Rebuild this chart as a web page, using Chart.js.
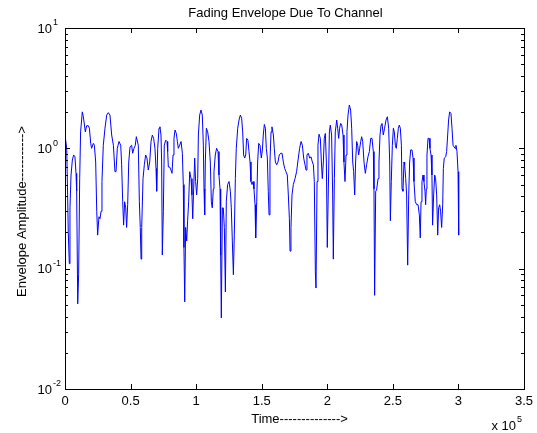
<!DOCTYPE html>
<html lang="en">
<head>
    <meta charset="UTF-8">
    <title>Fading Envelope Due To Channel</title>
    <script src="https://cdn.jsdelivr.net/npm/chart.js"></script>
    <style>
        body { margin: 0; background: #fff; }
        canvas { display: block; }
    </style>
</head>
<body>
    <canvas id="envChart" width="537" height="433"></canvas>

    <script>
        // sample times (in seconds) and envelope amplitudes
        var timeVals = [
            0, 1300, 2000, 2500, 3300, 3800, 4600, 5600, 6600, 7600, 8400, 8900, 9700, 10400, 11200, 11900,
            13200, 14000, 15500, 16500, 17800, 18600, 19600, 20300, 21600, 22400, 23400, 24200, 24900, 25900,
            26700, 27500, 28200, 29200, 30500, 31800, 33000, 34300, 35600, 36900, 38100, 38900, 39900, 41200,
            42500, 43200, 44000, 44700, 45500, 46300, 47000, 47800, 48600, 49600, 50800, 51600, 52600, 53600,
            54400, 55900, 56700, 57400, 58000, 58500, 59500, 60500, 61500, 62500, 63500, 64600, 65600, 66600,
            67600, 68600, 69400, 69900, 70700, 71700, 72400, 73200, 73700, 74200, 75000, 75700, 76800, 77800,
            78300, 78800, 79800, 80800, 81600, 82400, 83100, 83900, 84900, 85700, 86400, 87400, 88500, 89500,
            90200, 90700, 91300, 92000, 92800, 93500, 94300, 95100, 96100, 96800, 97400, 98100, 98900, 99600,
            100400, 101200, 101700, 102700, 103700, 104700, 105500, 106000, 106500, 107000, 107800, 108800,
            109800, 110800, 111600, 112300, 113100, 113600, 114600, 115600, 116700, 117400, 118200, 118700,
            119200, 120000, 120700, 121500, 122300, 123000, 124000, 125100, 126100, 126800, 127600, 128400,
            129100, 129900, 130600, 131700, 132700, 133700, 134700, 135500, 136200, 137000, 137800, 138500,
            139500, 140300, 141100, 141800, 142600, 143400, 144100, 144900, 145400, 146200, 146900, 147700,
            148700, 149700, 150500, 151200, 152000, 152800, 153500, 154300, 155000, 155600, 156300, 157100,
            157800, 158900, 159600, 160400, 161400, 162400, 163400, 164500, 165500, 166500, 167500, 168500,
            169500, 170300, 171100, 171600, 172300, 173100, 174100, 175400, 176600, 177900, 178900, 180000,
            181000, 182000, 183000, 183800, 184500, 185500, 186600, 187600, 188600, 189400, 190100, 190900,
            191400, 192200, 192900, 193700, 194700, 195500, 196200, 197000, 197700, 198500, 199300, 200000,
            200800, 201600, 202300, 203300, 204100, 204600, 205400, 206100, 207200, 207900, 208700, 209400,
            210200, 211000, 212000, 212700, 213500, 214300, 215000, 215800, 216800, 217800, 218600, 219400,
            220100, 220900, 221600, 222400, 223200, 223900, 224700, 225500, 226200, 227000, 228000, 229000,
            230000, 231000, 232100, 233100, 234100, 235100, 235600, 236100, 236900, 237600, 238700, 239400,
            240200, 241000, 241700, 242700, 243700, 244800, 245800, 246800, 247600, 248100, 248800, 249600,
            250400, 251100, 251900, 252600, 253400, 254200, 254900, 255700, 256500, 257000, 257700, 258500,
            259000, 259800, 260500, 261300, 262100, 262800, 263600, 264600, 265400, 266100, 267100, 268200,
            269200, 270200, 270900, 271500, 272200, 273000, 273700, 274500, 275000, 275500, 276000, 276800,
            277600, 278300, 279100, 279800, 280300, 281100, 281900, 282600, 283400, 284200, 284900, 285700,
            286400, 287200, 288000, 288500, 289200, 290300, 291000, 291800, 292500, 293300, 294300, 295100,
            295900, 296600, 297400, 298100, 298900, 299700, 300200
        ];
        var envVals = [
            1.29, 1.00, 0.41, 0.20, 0.11, 0.32, 0.60, 0.80, 0.88, 0.85, 0.62, 0.44, 0.051, 0.089, 0.56, 1.37,
            2.01, 1.83, 1.37, 1.54, 1.54, 1.47, 1.10, 1.00, 1.10, 1.06, 0.77, 0.30, 0.19, 0.27,
            0.26, 0.30, 0.53, 1.06, 1.47, 1.89, 1.98, 1.89, 1.29, 1.06, 0.64, 0.64, 1.00, 1.14,
            1.06, 0.73, 0.36, 0.23, 0.36, 0.32, 0.22, 0.34, 0.77, 1.03, 1.06, 0.91, 1.00, 1.06,
            1.25, 1.06, 0.36, 0.22, 0.12, 0.22, 0.56, 0.73, 0.88, 0.83, 0.66, 0.77, 1.14, 1.29,
            1.21, 1.00, 0.68, 0.44, 1.00, 1.47, 1.51, 1.29, 0.77, 0.13, 0.30, 1.06, 1.17, 1.14,
            0.94, 0.70, 0.70, 0.66, 0.62, 0.88, 1.21, 1.42, 1.33, 1.14, 1.00, 1.06, 1.14, 0.91,
            0.50, 0.15, 0.053, 0.22, 0.17, 0.25, 0.36, 0.64, 0.56, 0.41, 0.26, 0.46, 0.83, 0.53,
            0.41, 0.56, 1.29, 1.89, 2.08, 1.89, 1.06, 0.46, 0.28, 0.77, 1.47, 1.37,
            1.14, 0.77, 0.36, 0.32, 0.46, 0.64, 0.88, 1.00, 0.94, 0.60, 0.46, 0.13,
            0.039, 0.32, 0.32, 0.22, 0.064, 0.36, 0.50, 0.53, 0.44, 0.32, 0.17, 0.089,
            0.19, 0.56, 1.00, 1.47, 1.72, 1.89, 1.78, 1.37, 0.88, 0.83, 0.88, 1.21,
            1.17, 0.94, 0.77, 0.53, 0.50, 0.53, 0.46, 0.34, 0.18, 0.36, 0.77, 1.10,
            1.06, 0.83, 0.97, 1.29, 1.58, 1.47, 1.00, 0.83, 0.44, 0.28, 0.77, 1.37,
            1.51, 1.29, 1.00, 0.77, 0.73, 0.77, 0.88, 0.91, 0.91, 0.77, 0.68, 0.64,
            0.60, 0.41, 0.26, 0.14, 0.22, 0.41, 0.50, 0.56, 0.64, 0.83, 1.00, 1.14,
            1.06, 0.83, 0.73, 0.66, 0.88, 0.91, 0.83, 0.85, 0.77, 0.73, 0.53, 0.094,
            0.069, 0.53, 1.06, 1.31, 1.21, 0.77, 0.56, 0.77, 1.21, 1.33, 0.77, 0.15,
            0.46, 1.37, 1.56, 1.29, 0.41, 0.12, 0.56, 1.37, 1.72, 1.47, 1.21, 1.47,
            1.61, 1.56, 1.29, 0.77, 0.53, 0.88, 1.37, 1.89, 2.29, 2.08, 1.47, 0.77,
            0.64, 0.41, 0.77, 1.14, 1.06, 0.88, 1.00, 1.14, 1.25, 1.14, 0.77, 0.62,
            0.73, 0.85, 0.94, 1.21, 1.21, 0.94, 0.46, 0.060, 0.44, 0.45, 0.56, 0.77,
            1.29, 1.56, 1.61, 1.29, 1.47, 1.72, 1.83, 1.47, 0.77, 0.25, 0.53, 1.06,
            1.47, 1.37, 1.06, 1.00, 1.21, 1.47, 1.56, 1.47, 1.06, 0.46, 0.44, 0.77,
            0.73, 0.56, 0.41, 0.107, 0.41, 0.77, 0.97, 0.97, 0.83, 0.53, 0.36, 0.34,
            0.34, 0.28, 0.18, 0.36, 0.53, 0.60, 0.53, 0.44, 0.34, 0.46, 0.88, 1.21,
            1.21, 1.00, 0.88, 0.60, 0.23, 0.41, 0.60, 0.56, 0.41, 0.19, 0.32, 0.34,
            0.30, 0.22, 0.34, 0.68, 0.83, 0.85, 0.94, 1.29, 1.72, 2.01, 1.95, 1.47,
            1.06, 1.06, 1.00, 1.06, 0.94, 0.64, 0.19
        ];

        var xTickVals = [0, 50000, 100000, 150000, 200000, 250000, 300000, 350000];
        var xTickLabels = ['0', '0.5', '1', '1.5', '2', '2.5', '3', '3.5'];
        var yDecades = [0.01, 0.1, 1, 10];
        var yExponents = ['-2', '-1', '0', '1'];

        var titleText = 'Fading Envelope Due To Channel';
        var xLabelText = 'Time-------------->';
        var yLabelText = 'Envelope Amplitude----------->';

        var points = timeVals.map(function (t, i) {
            return { x: t, y: envVals[i] };
        });

        var fontName = '"Liberation Sans", Arial, sans-serif';

        // MATLAB style frame: box, inward ticks, 10^n labels
        var matlabAxes = {
            id: 'matlabAxes',
            afterDraw: function (chart) {
                var ctx = chart.ctx;
                var a = chart.chartArea;
                var xs = chart.scales.x;
                var ys = chart.scales.y;
                var midX = (a.left + a.right) / 2;

                ctx.save();
                ctx.strokeStyle = '#000';
                ctx.lineWidth = 1;
                ctx.strokeRect(a.left + 0.5, a.top + 0.5, a.right - a.left, a.bottom - a.top);

                ctx.beginPath();
                xTickVals.forEach(function (v) {
                    var px = Math.round(xs.getPixelForValue(v)) + 0.5;
                    ctx.moveTo(px, a.bottom);
                    ctx.lineTo(px, a.bottom - 5);
                    ctx.moveTo(px, a.top);
                    ctx.lineTo(px, a.top + 5);
                });
                yDecades.forEach(function (d, k) {
                    var py = Math.round(ys.getPixelForValue(d)) + 0.5;
                    ctx.moveTo(a.left, py);
                    ctx.lineTo(a.left + 5, py);
                    ctx.moveTo(a.right, py);
                    ctx.lineTo(a.right - 5, py);
                    if (k < yDecades.length - 1) {
                        for (var m = 2; m <= 9; m++) {
                            var my = Math.round(ys.getPixelForValue(d * m)) + 0.5;
                            ctx.moveTo(a.left, my);
                            ctx.lineTo(a.left + 3, my);
                            ctx.moveTo(a.right, my);
                            ctx.lineTo(a.right - 3, my);
                        }
                    }
                });
                ctx.stroke();

                ctx.fillStyle = '#000';
                ctx.font = '13px ' + fontName;
                ctx.textAlign = 'center';
                ctx.textBaseline = 'middle';
                xTickVals.forEach(function (v, i) {
                    ctx.fillText(xTickLabels[i], xs.getPixelForValue(v), a.bottom + 12);
                });

                yDecades.forEach(function (d, k) {
                    var py = ys.getPixelForValue(d);
                    ctx.font = '13px ' + fontName;
                    ctx.textAlign = 'right';
                    ctx.fillText('10', a.left - 13, py + 1);
                    ctx.font = '9px ' + fontName;
                    ctx.textAlign = 'left';
                    ctx.fillText(yExponents[k], a.left - 12, py - 5);
                });

                // exponent note under the x axis
                ctx.font = '13px ' + fontName;
                ctx.textAlign = 'right';
                ctx.fillText('x 10', a.right - 8, a.bottom + 37);
                ctx.font = '9px ' + fontName;
                ctx.textAlign = 'left';
                ctx.fillText('5', a.right - 7, a.bottom + 31);

                ctx.font = '13px ' + fontName;
                ctx.textAlign = 'center';
                ctx.fillText(titleText, midX - 9, a.top - 15);
                ctx.fillText(xLabelText, midX + 5, a.bottom + 30);

                ctx.translate(22, (a.top + a.bottom) / 2 + 3);
                ctx.rotate(-Math.PI / 2);
                ctx.fillText(yLabelText, 0, 0);
                ctx.restore();
            }
        };

        var ctx = document.getElementById('envChart').getContext('2d');
        var envChart = new Chart(ctx, {
            type: 'line',
            data: {
                datasets: [{
                    label: 'Envelope',
                    data: points,
                    borderColor: '#0000ff',
                    borderWidth: 1,
                    pointRadius: 0,
                    tension: 0,
                    fill: false
                }]
            },
            options: {
                responsive: false,
                animation: false,
                layout: {
                    padding: { left: 65, top: 28, right: 13, bottom: 44 }
                },
                plugins: {
                    legend: { display: false },
                    tooltip: { enabled: false }
                },
                scales: {
                    x: {
                        type: 'linear',
                        min: 0,
                        max: 350000,
                        display: false
                    },
                    y: {
                        type: 'logarithmic',
                        min: 0.01,
                        max: 10,
                        display: false
                    }
                }
            },
            plugins: [matlabAxes]
        });
    </script>
</body>
</html>
